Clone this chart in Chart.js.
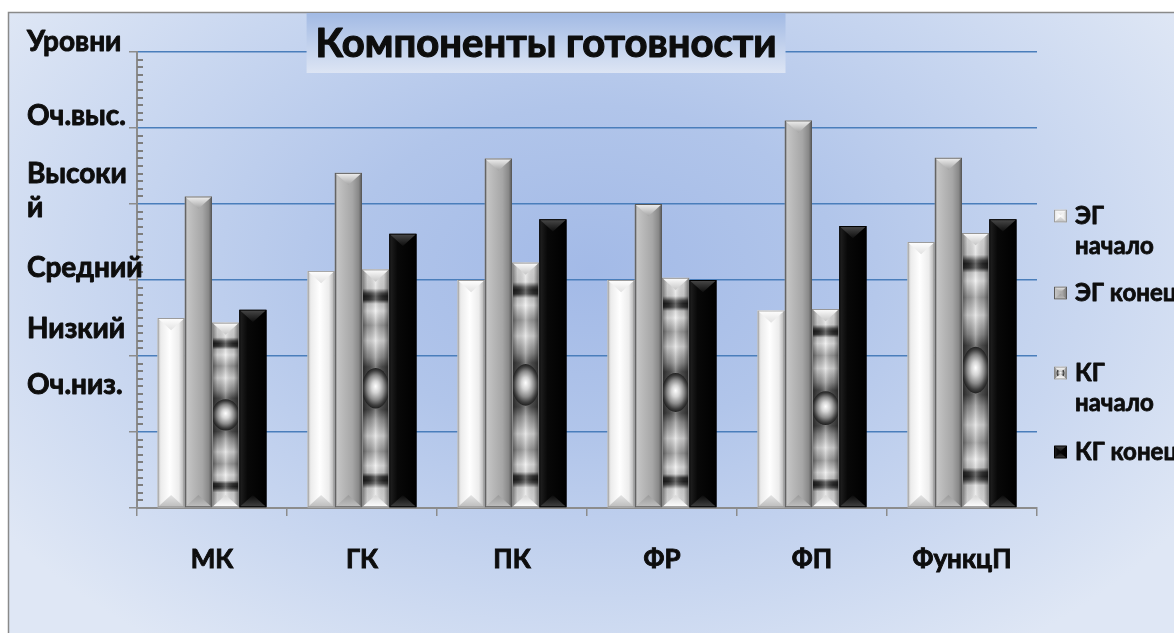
<!DOCTYPE html>
<html><head><meta charset="utf-8">
<script src="https://cdn.jsdelivr.net/npm/chart.js@4.4.1/dist/chart.umd.min.js"></script>
<style>html,body{margin:0;padding:0;background:#fff;overflow:hidden}#wrap{position:relative;width:1174px;height:633px}</style>
</head><body><div id="wrap"><canvas id="c" width="1174" height="633"></canvas></div>
<script>
// ---- data ----
const categories = ['МК','ГК','ПК','ФР','ФП','ФункцП'];
const seriesNames = ['ЭГ начало','ЭГ конец','КГ начало','КГ конец'];
const egStart = [2.50, 3.12, 3.00, 3.00, 2.60, 3.50];
const egEnd   = [4.10, 4.41, 4.60, 4.00, 5.10, 4.61];
const kgStart = [2.44, 3.14, 3.23, 3.03, 2.62, 3.62];
const kgEnd   = [2.61, 3.61, 3.80, 3.00, 3.71, 3.80];
const yTickValues = [0,1,2,3,4,5,6];
const levelLabels = ['Оч.низ.','Низкий','Средний','Высокий','Оч.выс.','Уровни'];
const chartTitle = 'Компоненты готовности';

const FONT = "Lato, 'Liberation Sans', 'DejaVu Sans', sans-serif";
const TEXT = '#0d0d0d';

function grad(ctx, x0, y0, x1, y1, stops){ const g = ctx.createLinearGradient(x0,y0,x1,y1); stops.forEach(s=>g.addColorStop(s[0],s[1])); return g; }

const STYLES = [
 { body:[[0,'#b0b0b0'],[0.12,'#ececec'],[0.45,'#ffffff'],[0.78,'#ececec'],[0.92,'#c4c4c4'],[1,'#8a8a8a']], top:[[0,'#ffffff'],[1,'#e2e2e2']], bot:[[0,'#e4e4e4'],[1,'#bcbcbc']], edge:'#9c9c9c' },
 { body:[[0,'#6e6e6e'],[0.1,'#c4c4c4'],[0.35,'#b6b6b6'],[0.65,'#a6a6a6'],[0.88,'#888888'],[1,'#555555']], top:[[0,'#f2f2f2'],[1,'#a4a4a4']], bot:[[0,'#9a9a9a'],[1,'#c0c0c0']], edge:'#5a5a5a' },
 { textured:true, top:[[0,'#ffffff'],[1,'#c6c6c6']], bot:[[0,'#d6d6d6'],[1,'#ffffff']], edge:'#8a8a8a' },
 { body:[[0,'#222222'],[0.3,'#080808'],[1,'#000000']], top:[[0,'#4a4a4a'],[1,'#0e0e0e']], bot:[[0,'#080808'],[1,'#444444']], edge:'#000000' }
];

function drawBar(ctx, g, st, small){
  const l=g.x-g.width/2, r=g.x+g.width/2, t=Math.min(g.y,g.base), b=Math.max(g.y,g.base), w=r-l, h=b-t;
  if (h<=0 || w<=0) return;
  const cap = Math.min(w*0.45, h/2);
  ctx.save();
  ctx.beginPath(); ctx.rect(l,t,w,h); ctx.clip();
  if (st.textured){
    const stops = [[0,'#f0f0f0'],[0.08,'#dcdcdc'],[0.1,'#4a4a4a'],[0.112,'#262626'],[0.128,'#333333'],[0.145,'#cfcfcf'],[0.175,'#ececec'],[0.235,'#9a9a9a'],[0.3,'#dedede'],[0.37,'#8e8e8e'],[0.41,'#4a4a4a'],[0.5,'#5a5a5a'],[0.59,'#4a4a4a'],[0.63,'#8e8e8e'],[0.7,'#dedede'],[0.765,'#9a9a9a'],[0.825,'#ececec'],[0.855,'#cfcfcf'],[0.872,'#333333'],[0.888,'#262626'],[0.9,'#4a4a4a'],[0.92,'#dcdcdc'],[1,'#f0f0f0']];
    ctx.fillStyle = grad(ctx,0,t,0,b, small ? [[0,'#e8e8e8'],[1,'#bdbdbd']] : stops);
    ctx.fillRect(l,t,w,h);
    ctx.fillStyle = grad(ctx,l,0,r,0,[[0,'rgba(0,0,0,0.5)'],[0.2,'rgba(0,0,0,0.12)'],[0.5,'rgba(255,255,255,0.3)'],[0.8,'rgba(0,0,0,0.12)'],[1,'rgba(0,0,0,0.55)']]);
    ctx.fillRect(l,t,w,h);
    const cy=(t+b)/2, rx= small ? w*0.3 : w/2, ry = small ? w*0.3 : Math.max(h*0.085, w*0.4);
    ctx.save();
    ctx.translate(g.x, cy); ctx.scale(1, ry/rx);
    const rg = ctx.createRadialGradient(0,-rx*0.1,0,0,0,rx);
    rg.addColorStop(0,'#ffffff'); rg.addColorStop(0.3,'#d4d4d4'); rg.addColorStop(0.62,'#8a8a8a'); rg.addColorStop(0.86,'#3e3e3e'); rg.addColorStop(1,'#202020');
    ctx.beginPath(); ctx.arc(0,0,rx,0,Math.PI*2); ctx.fillStyle=rg; ctx.fill();
    ctx.restore();
  } else {
    ctx.fillStyle = grad(ctx,l,0,r,0,st.body);
    ctx.fillRect(l,t,w,h);
  }
  ctx.beginPath(); ctx.moveTo(l,t); ctx.lineTo(r,t); ctx.lineTo(g.x,t+cap); ctx.closePath();
  ctx.fillStyle = grad(ctx,0,t,0,t+cap,st.top); ctx.fill();
  ctx.beginPath(); ctx.moveTo(l,b); ctx.lineTo(r,b); ctx.lineTo(g.x,b-cap); ctx.closePath();
  ctx.fillStyle = grad(ctx,0,b-cap,0,b,st.bot); ctx.fill();
  ctx.strokeStyle = st.edge; ctx.lineWidth = 1;
  ctx.strokeRect(l+0.5,t+0.5,w-1,h-1);
  ctx.restore();
}

function boldText(ctx, txt, x, y, sw){ ctx.lineWidth = sw; ctx.strokeStyle = TEXT; ctx.lineJoin='round'; ctx.strokeText(txt,x,y); ctx.fillText(txt,x,y); }

const backgroundPlugin = {
  id:'bg',
  beforeDraw(chart){
    const {ctx, width, height} = chart;
    ctx.save();
    ctx.fillStyle='#ffffff'; ctx.fillRect(0,0,width,height);
    ctx.save();
    ctx.beginPath(); ctx.rect(8,12,width-8,height-12); ctx.clip();
    ctx.translate(590,270); ctx.scale(1.5,1);
    const rg = ctx.createRadialGradient(0,0,0,0,0,470);
    rg.addColorStop(0,'#a3bae7'); rg.addColorStop(0.35,'#b1c5ea'); rg.addColorStop(0.7,'#c9d7f0'); rg.addColorStop(1,'#dfe7f5');
    ctx.fillStyle=rg; ctx.fillRect(-600,-300,1200,700);
    ctx.restore();
    ctx.strokeStyle='#8a8a8a'; ctx.lineWidth=1.5;
    ctx.beginPath(); ctx.moveTo(8.5,height); ctx.lineTo(8.5,12.5); ctx.lineTo(width,12.5); ctx.stroke();
    ctx.restore();
  }
};

const barDecorPlugin = {
  id:'barDecor',
  afterDatasetsDraw(chart){
    const ctx = chart.ctx;
    chart.data.datasets.forEach((ds,i)=>{
      const meta = chart.getDatasetMeta(i);
      meta.data.forEach(el=>{
        const p = el.getProps(['x','y','base','width'], true);
        drawBar(ctx, p, STYLES[i], false);
      });
    });
  }
};

const minorTickPlugin = {
  id:'minorTicks',
  afterDraw(chart){
    const ys = chart.scales.y, ctx = chart.ctx, left = chart.chartArea.left;
    ctx.save(); ctx.strokeStyle='#7e7e7e'; ctx.lineWidth=2;
    for (let k=1;k<60;k++){ if (k%10===0) continue; const py = Math.round(ys.getPixelForValue(k/10)); ctx.beginPath(); ctx.moveTo(left,py); ctx.lineTo(left+6,py); ctx.stroke(); }
    ctx.restore();
  }
};

const overlayPlugin = {
  id:'overlay',
  afterDraw(chart){
    const ctx = chart.ctx, ys = chart.scales.y, ca = chart.chartArea;
    ctx.save();
    // title box
    const cx = ca.left + (ca.right-ca.left)*0.4545;
    ctx.font = "bold 40px " + FONT;
    const tw = ctx.measureText(chartTitle).width;
    const bx0 = Math.min(cx - tw/2 - 9, cx - 233), bx1 = Math.max(cx + tw/2 + 9, cx + 233);
    ctx.fillStyle = grad(ctx,0,13,0,73,[[0,'#a2bae4'],[1,'#dde5f4']]);
    ctx.fillRect(bx0,13,bx1-bx0,60);
    ctx.fillStyle = TEXT; ctx.textAlign='center'; ctx.textBaseline='alphabetic';
    boldText(ctx, chartTitle, cx, 57, 1.2);
    // level labels
    const anchors = [1.5, 2.24, 3.04, 4.28, 5.04, 6.01];
    const breakAt = [0,0,0,6,0,0];
    ctx.font = "bold 28px " + FONT; ctx.textAlign='left';
    levelLabels.forEach((txt,i)=>{
      const y = ys.getPixelForValue(anchors[i]);
      const lines = breakAt[i] ? [txt.slice(0,breakAt[i]), txt.slice(breakAt[i])] : [txt];
      lines.forEach((ln,k)=> boldText(ctx, ln, 27, y + k*34, 0.9));
    });
    // legend
    const rows = [[216,[0,32]],[293,[0]],[373,[0,32]],[452,[0]]];
    const mx = ca.right + 17, tx = ca.right + 38, ms = 13;
    ctx.font = "bold 24px " + FONT;
    seriesNames.forEach((name,i)=>{
      const c = rows[i][0];
      drawBar(ctx,{x:mx+ms/2,y:c-ms/2,base:c+ms/2,width:ms},STYLES[i],true);
      const parts = rows[i][1].length>1 ? name.split(' ') : [name];
      ctx.fillStyle = TEXT;
      parts.forEach((p,k)=>{ const base = k===0 ? c+8 : c + rows[i][1][k] + 6; boldText(ctx, p, tx, base, 0.8); });
    });
    ctx.restore();
  }
};

const seriesData = [egStart, egEnd, kgStart, kgEnd];
const baseColors = ['#eeeeee','#aaaaaa','#c0c0c0','#000000'];

new Chart(document.getElementById('c'), {
  type:'bar',
  data:{ labels:categories, datasets: seriesData.map((d,i)=>({ label:seriesNames[i], data:d, backgroundColor:baseColors[i], borderWidth:0, categoryPercentage:0.727, barPercentage:1 })) },
  options:{
    responsive:false, animation:false, devicePixelRatio:1,
    layout:{ padding:{ left:117, top:52, right:137, bottom:0 } },
    plugins:{ legend:{display:false}, title:{display:false}, tooltip:{enabled:false} },
    scales:{
      x:{
        grid:{ offset:true, drawOnChartArea:false, drawTicks:true, tickLength:8, color:'#8c8c8c', lineWidth:1.5 },
        border:{ display:true, color:'#8c8c8c', width:2 },
        ticks:{ font:{ family:FONT, size:26, weight:'bold' }, color:TEXT, padding:28, maxRotation:0, textStrokeColor:TEXT, textStrokeWidth:0.9 },
        afterFit(s){ s.height = 125; }
      },
      y:{
        min:0, max:6,
        afterBuildTicks(s){ s.ticks = yTickValues.map(v=>({value:v})); },
        ticks:{ display:false },
        grid:{ color:(c)=> (c.tick && c.tick.value===0) ? 'rgba(0,0,0,0)' : '#4a7ebb', lineWidth:1.5, drawTicks:true, tickLength:8, tickColor:'#8c8c8c', tickWidth:1.5 },
        border:{ display:true, color:'#8c8c8c', width:2 },
        afterFit(s){ s.width = 20; }
      }
    }
  },
  plugins:[backgroundPlugin, barDecorPlugin, minorTickPlugin, overlayPlugin]
});
</script></body></html>
